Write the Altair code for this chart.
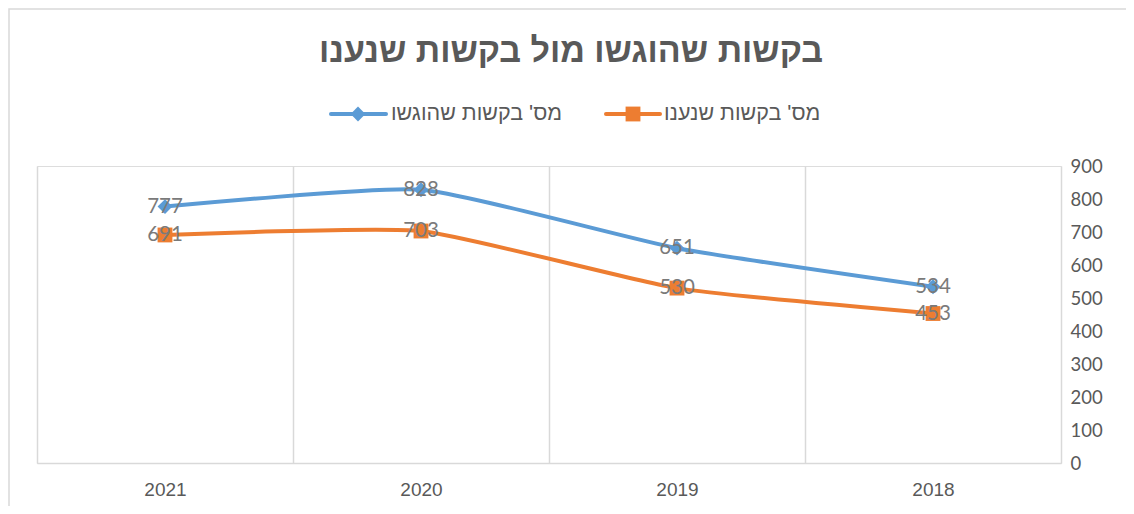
import altair as alt
import pandas as pd

years = ["2021", "2020", "2019", "2018"]
submitted = [777, 828, 651, 534]
answered = [691, 703, 530, 453]
series_names = ["מס' בקשות שהוגשו", "מס' בקשות שנענו"]
title_text = "בקשות שהוגשו מול בקשות שנענו"
y_ticks = [0, 100, 200, 300, 400, 500, 600, 700, 800, 900]

colors = ["#5B9BD5", "#ED7D31"]
shapes = ["diamond", "square"]

rows = []
for y, v in zip(years, submitted):
    rows.append({"year": y, "series": series_names[0], "value": v})
for y, v in zip(years, answered):
    rows.append({"year": y, "series": series_names[1], "value": v})
df = pd.DataFrame(rows)

HEB = "Liberation Sans, DejaVu Sans, sans-serif"
NUM = "Lato, Liberation Sans, sans-serif"
XNUM = "Liberation Sans, Arial, sans-serif"
GRAY = "#595959"
LGRAY = "#d9d9d9"

x_enc = alt.X(
    "year:N",
    sort=years,
    scale=alt.Scale(type="band", paddingInner=0, paddingOuter=0),
    axis=alt.Axis(
        title=None,
        tickBand="extent",
        grid=True,
        gridColor=LGRAY,
        gridWidth=1.5,
        ticks=False,
        domainColor=LGRAY,
        domainWidth=1.5,
        labelFont=XNUM,
        labelFontSize=19,
        labelColor=GRAY,
        labelPadding=17,
        labelAngle=0,
    ),
)
y_enc = alt.Y(
    "value:Q",
    scale=alt.Scale(domain=[0, 900], nice=False, zero=True),
    axis=alt.Axis(
        title=None,
        orient="right",
        values=y_ticks,
        grid=False,
        ticks=False,
        domain=False,
        labelFont=NUM,
        labelFontSize=18.5,
        labelColor=GRAY,
        labelPadding=9,
    ),
)
color_enc = alt.Color("series:N", scale=alt.Scale(domain=series_names, range=colors), legend=None)
shape_enc = alt.Shape("series:N", scale=alt.Scale(domain=series_names, range=shapes), legend=None)

base = alt.Chart(df)

lines = base.mark_line(strokeWidth=4, interpolate="cardinal", tension=0.5).encode(
    x=x_enc, y=y_enc, color=color_enc, detail="series:N"
)
points = base.mark_point(filled=True, opacity=1, size=220).encode(
    x=x_enc, y=y_enc, color=color_enc, shape=shape_enc
)
labels = base.mark_text(
    align="center", baseline="middle", font=NUM, fontSize=20.5, color="#7a7a7a"
).encode(x=x_enc, y=y_enc, text="value:Q")

one = alt.Data(values=[{}])

border = alt.Chart(one).mark_rect(fill="transparent", stroke=LGRAY, strokeWidth=1.5).encode(
    x=alt.value(-28), x2=alt.value(1300), y=alt.value(-157), y2=alt.value(500)
)

title = alt.Chart(one).mark_text(
    align="center", baseline="middle", font=HEB, fontSize=34, fontWeight="bold", color=GRAY
).encode(x=alt.value(534), y=alt.value(-114), text=alt.value(title_text))

legend_layers = []
leg_y = -52
leg_specs = [
    (294, 349, 321, 354, 0),
    (569, 623, 596, 627, 1),
]
for lx1, lx2, px, tx, i in leg_specs:
    legend_layers.append(
        alt.Chart(one).mark_rule(strokeWidth=4, color=colors[i], strokeCap="round").encode(
            x=alt.value(lx1), x2=alt.value(lx2), y=alt.value(leg_y)
        )
    )
    legend_layers.append(
        alt.Chart(one).mark_point(filled=True, opacity=1, size=220, shape=shapes[i], color=colors[i]).encode(
            x=alt.value(px), y=alt.value(leg_y)
        )
    )
    legend_layers.append(
        alt.Chart(one).mark_text(
            align="left", baseline="middle", font=HEB, fontSize=21.5, color=GRAY
        ).encode(x=alt.value(tx), y=alt.value(leg_y), text=alt.value(series_names[i]))
    )

chart = alt.layer(border, lines, points, labels, title, *legend_layers).properties(
    width=1024,
    height=297,
    padding={"left": 29, "top": 158, "right": 65, "bottom": 43},
    autosize=alt.AutoSizeParams(type="none"),
).configure_view(stroke=None).configure(background="white")

chart.save("out.html", embed_options={"renderer": "svg", "actions": False})
